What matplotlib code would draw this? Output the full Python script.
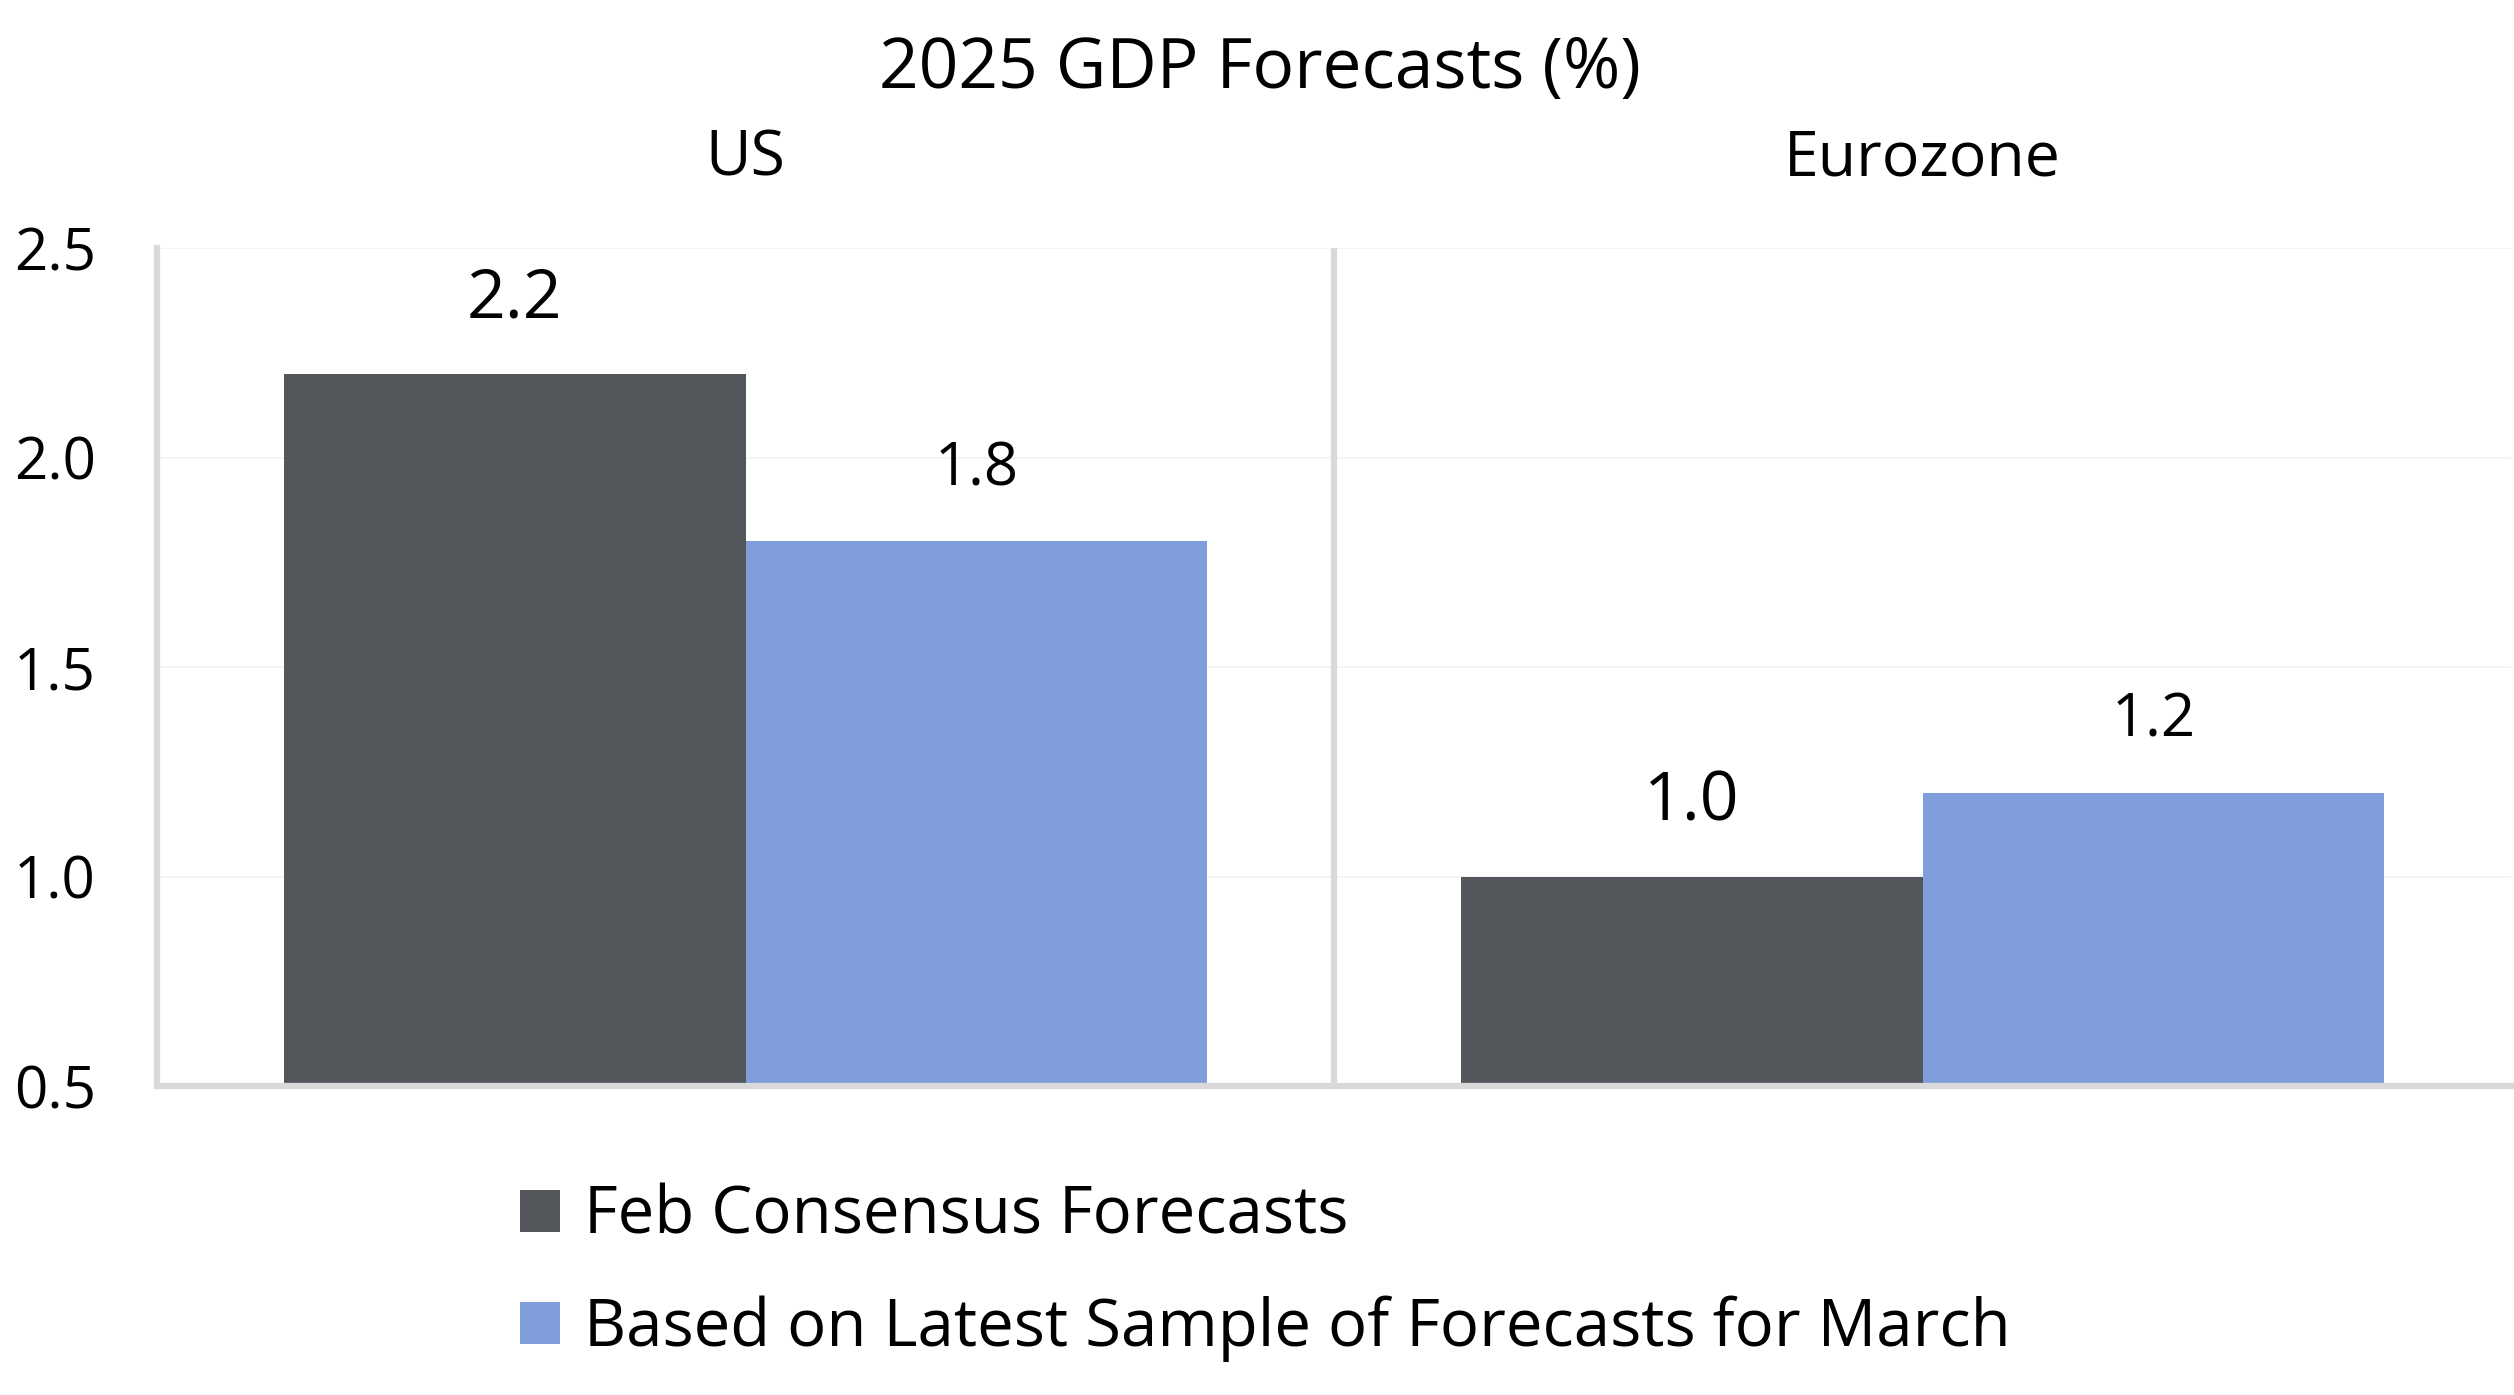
import matplotlib
matplotlib.use("Agg")
import matplotlib.pyplot as plt
import matplotlib.transforms as mtransforms
from matplotlib.patches import Patch
import numpy as np

plt.rcParams['font.family'] = ['Open Sans', 'DejaVu Sans']

# ---- data ----
regions = ["US", "Eurozone"]
series_names = ["Feb Consensus Forecasts", "Based on Latest Sample of Forecasts for March"]
feb_values = [2.2, 1.0]
march_values = [1.8, 1.2]
y_ticks = [0.5, 1.0, 1.5, 2.0, 2.5]
title_text = "2025 GDP Forecasts (%)"

# ---- style ----
col_dark = "#53565B"
col_blue = "#7F9EDB"
axis_grey = "#D9D9D9"
grid_grey = "#F2F2F2"

W, H = 2514, 1395
fig = plt.figure(figsize=(W / 100, H / 100), dpi=100)
fig.patch.set_facecolor("white")

left, right, top, bottom = 157, 2511, 248, 1086
ax = fig.add_axes([left / W, 1 - bottom / H, (right - left) / W, (bottom - top) / H])

x = np.arange(len(regions))
bw = 0.3925
b1 = ax.bar(x - bw / 2, feb_values, bw, color=col_dark, zorder=3)
b2 = ax.bar(x + bw / 2, march_values, bw, color=col_blue, zorder=3)

ax.set_xlim(-0.5, len(regions) - 0.5)
ax.set_ylim(y_ticks[0], y_ticks[-1])
ax.set_yticks(y_ticks)
ax.set_yticklabels([f"{v:.1f}" for v in y_ticks], fontsize=42)
ax.tick_params(axis='y', length=0, pad=44)
ax.set_xticks([])

ax.yaxis.grid(True, color=grid_grey, lw=1.2, zorder=0)
ax.set_axisbelow(True)

for s in ["top", "right"]:
    ax.spines[s].set_visible(False)
for s in ["left", "bottom"]:
    ax.spines[s].set_color(axis_grey)
    ax.spines[s].set_linewidth(4.5)
    ax.spines[s].set_zorder(4)

# panel separators
for i in range(1, len(regions)):
    ax.axvline(i - 0.5, color=axis_grey, lw=4.5, zorder=4)

# data labels
for rect, v in zip(b1, feb_values):
    ax.annotate(f"{v:.1f}", (rect.get_x() + rect.get_width() / 2, v),
                xytext=(0, 40.3), textcoords='offset points',
                ha='center', va='baseline', fontsize=49, color='black')
for rect, v in zip(b2, march_values):
    ax.annotate(f"{v:.1f}", (rect.get_x() + rect.get_width() / 2, v),
                xytext=(0, 40.3), textcoords='offset points',
                ha='center', va='baseline', fontsize=43, color='black')

# panel labels
trans = mtransforms.blended_transform_factory(ax.transData, fig.transFigure)
for xi, name in zip(x, regions):
    ax.text(xi, 1 - 176 / H, name, transform=trans, ha='center', va='baseline',
            fontsize=45, color='black')

# title
fig.text(1260 / W, 1 - 88 / H, title_text, ha='center', va='baseline',
         fontsize=50, color='black')

# legend
handles = [Patch(facecolor=col_dark, edgecolor='none'),
           Patch(facecolor=col_blue, edgecolor='none')]
fig.legend(handles, series_names, loc='upper left',
           bbox_to_anchor=(520 / W, 1 - 1184 / H), frameon=False,
           fontsize=47, handlelength=0.62, handleheight=0.62,
           handletextpad=0.36, labelspacing=0.70, borderpad=0, borderaxespad=0)

fig.savefig("out.png", dpi=100, facecolor="white")
